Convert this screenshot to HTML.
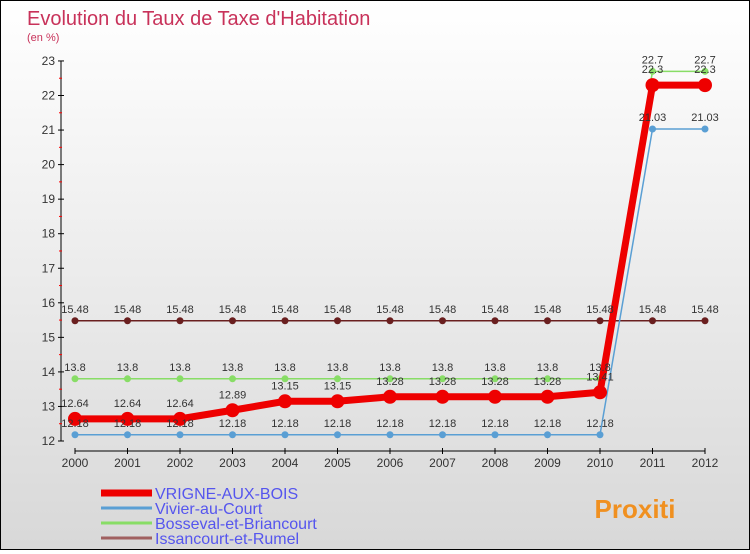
<!DOCTYPE html>
<html><head><meta charset="utf-8"><style>
body{margin:0}
#c{width:748px;height:548px;border:1px solid #000;background:linear-gradient(#fff,#d8d8d8);position:relative;font-family:"Liberation Sans","DejaVu Sans",sans-serif}
</style></head><body>
<div id="c">
<svg id="s" width="748" height="548" xmlns="http://www.w3.org/2000/svg">
<text x="26" y="24" font-size="20" fill="#c8325a">Evolution du Taux de Taxe d'Habitation</text>
<text x="26" y="40" font-size="11" fill="#c8325a">(en %)</text>
<g id="g"></g>
</svg>
</div>
<script>
const years=["2000","2001","2002","2003","2004","2005","2006","2007","2008","2009","2010","2011","2012"];
const yTicks=[12,13,14,15,16,17,18,19,20,21,22,23];
const vrigne=[12.64,12.64,12.64,12.89,13.15,13.15,13.28,13.28,13.28,13.28,13.41,22.3,22.3];
const vivier=[12.18,12.18,12.18,12.18,12.18,12.18,12.18,12.18,12.18,12.18,12.18,21.03,21.03];
const bosseval=[13.8,13.8,13.8,13.8,13.8,13.8,13.8,13.8,13.8,13.8,13.8,22.7,22.7];
const issan=[15.48,15.48,15.48,15.48,15.48,15.48,15.48,15.48,15.48,15.48,15.48,15.48,15.48];
const seriesNames=["VRIGNE-AUX-BOIS","Vivier-au-Court","Bosseval-et-Briancourt","Issancourt-et-Rumel"];
const NS="http://www.w3.org/2000/svg",g=document.getElementById('g');
const X=i=>74+i*52.5, Y=v=>440-(v-12)*34.55;
function el(t,a,name){const e=document.createElementNS(NS,t);for(const k in a)e.setAttribute(k,a[k]);


g.appendChild(e);return e;}
function txt(x,y,s,name,o){const e=el('text',Object.assign({x:x,y:y,'font-size':11,fill:'#333','text-anchor':'middle'},o||{}),name);e.textContent=s;return e;}
el('line',{x1:60,y1:Y(23),x2:60,y2:Y(12),stroke:'#000'},'y-axis');
yTicks.forEach(v=>{el('line',{x1:57,y1:Y(v),x2:63,y2:Y(v),stroke:'#000'},'y-tick');txt(54,Y(v)+4,String(v),'y-tick-label',{'text-anchor':'end','font-size':12});
if(v<23)el('line',{x1:58,y1:Y(v+0.5),x2:61,y2:Y(v+0.5),stroke:'#f00'},'y-minor-tick');});
el('line',{x1:X(0),y1:450,x2:X(12),y2:450,stroke:'#000'},'x-axis');
years.forEach((y,i)=>{el('line',{x1:X(i),y1:447,x2:X(i),y2:453,stroke:'#000'},'x-tick');txt(X(i),466,y,'x-tick-label',{'font-size':12});});
function series(d,col,w,r,name){el('polyline',{points:d.map((v,i)=>X(i)+','+Y(v)).join(' '),fill:'none',stroke:col,'stroke-width':w},name+'-line');
d.forEach((v,i)=>{el('circle',{cx:X(i),cy:Y(v),r:r,fill:col},name+'-point');});}
series(issan,'#6a1f1f',1.5,3.5,'issancourt');
series(vivier,'#5a9fd4',1.5,3.5,'vivier');
series(bosseval,'#88dd66',1.5,3.5,'bosseval');
series(vrigne,'#ee0000',7,7,'vrigne');
[[issan,-8],[vivier,-8],[bosseval,-8],[vrigne,-12]].forEach(([d,o],k)=>d.forEach((v,i)=>txt(X(i),Y(v)+o,String(v),'value-label')));
const cols=['#ee0000','#5a9fd4','#88dd66','#a06060'];
seriesNames.forEach((n,k)=>{const y=490+k*15;el('line',{x1:100,y1:y+2,x2:151,y2:y+2,stroke:cols[k],'stroke-width':k?3:7},'legend-swatch');
txt(154,y+8,n,'legend-entry',{'text-anchor':'start','font-size':16,fill:'#5555ee'});});
txt(634,517,'Proxiti','logo',{'font-size':26,fill:'#f09020','font-weight':'bold'});
</script>
</body></html>
